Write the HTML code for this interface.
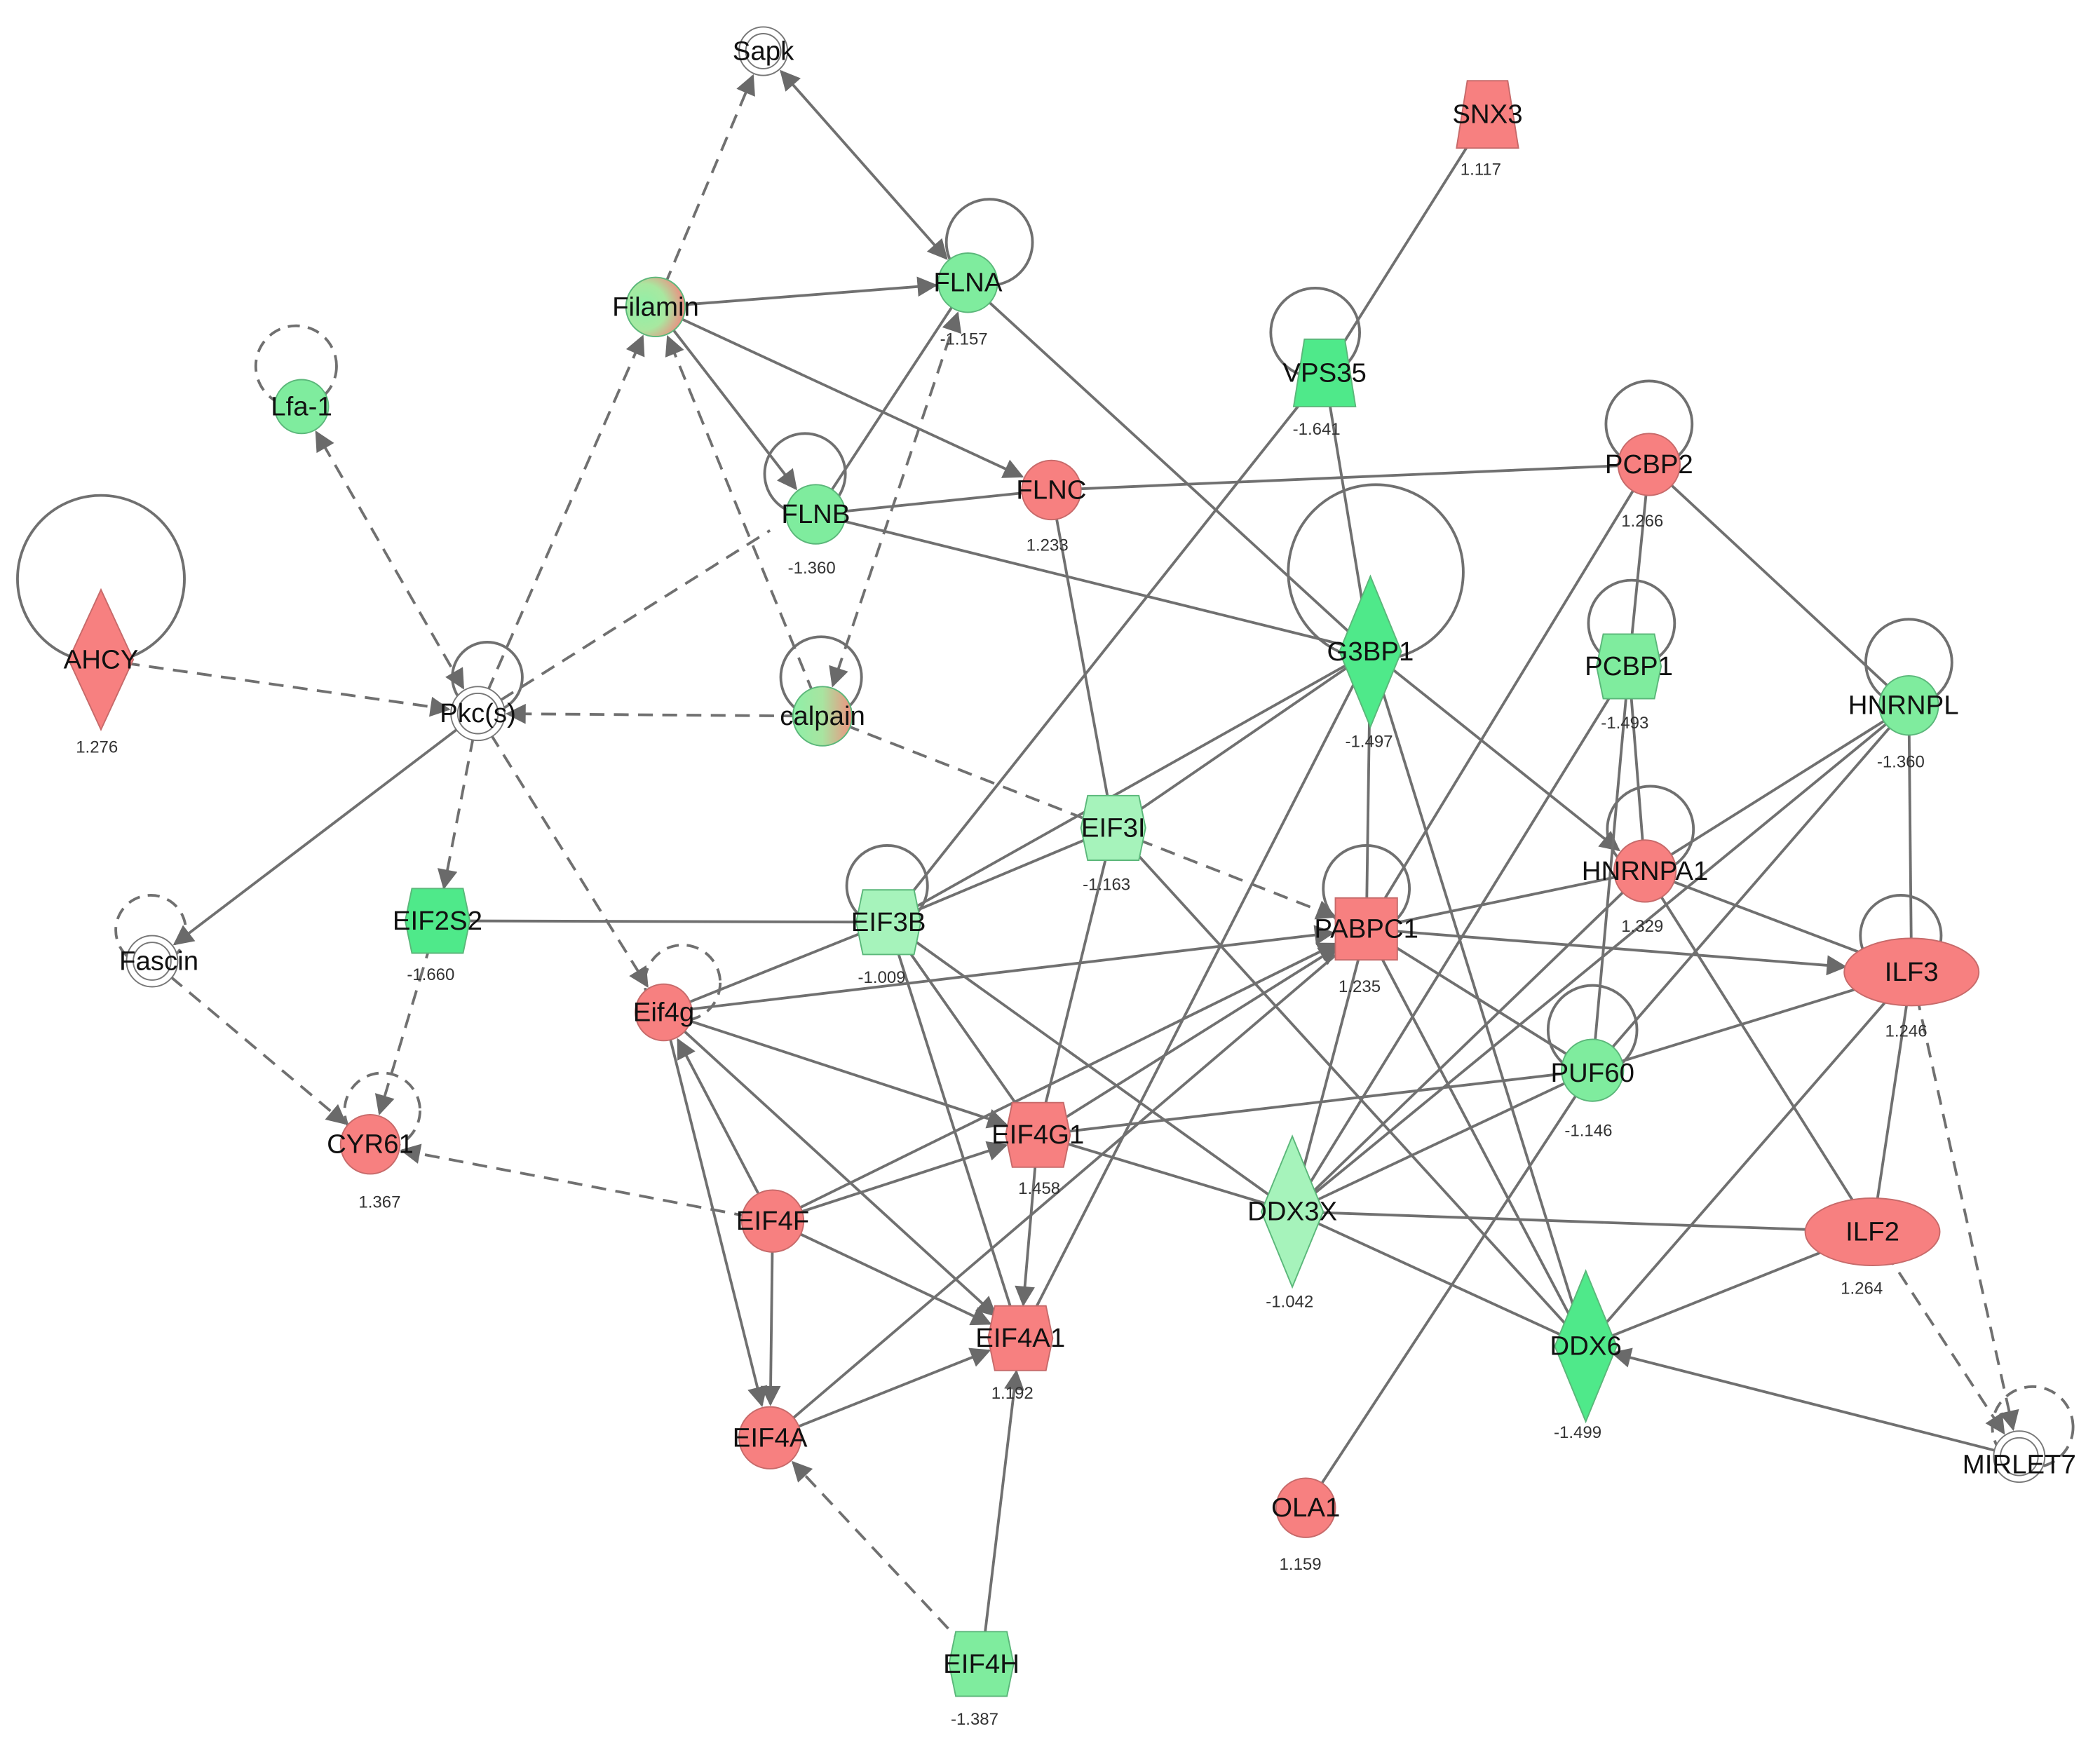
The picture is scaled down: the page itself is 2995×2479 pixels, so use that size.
<!DOCTYPE html>
<html><head><meta charset="utf-8"><style>
html,body{margin:0;padding:0;background:#fff;}
svg{display:block;}
text{font-family:"Liberation Sans",Arial,sans-serif;fill:#111;}
.l{font-size:20px;text-anchor:middle;dominant-baseline:central;}
.v{font-size:12.5px;text-anchor:middle;fill:#333;}
</style></head><body>
<svg id="s" width="2995" height="2479" viewBox="0 0 1560 1291" preserveAspectRatio="none" xmlns="http://www.w3.org/2000/svg">
<defs>
<marker id="a" viewBox="0 0 10 10" refX="9" refY="5" markerWidth="17" markerHeight="15" markerUnits="userSpaceOnUse" orient="auto-start-reverse"><path d="M0,0 L10,5 L0,10 z" fill="#6a6a6a"/></marker>
<radialGradient id="gr" cx="30%" cy="50%" r="70%"><stop offset="0" stop-color="#8ef0a8"/><stop offset="0.55" stop-color="#a8e8a0"/><stop offset="1" stop-color="#f08a80"/></radialGradient>
<linearGradient id="gr2" x1="0" y1="0" x2="1" y2="0"><stop offset="0" stop-color="#8ef0a8"/><stop offset="0.5" stop-color="#a8e4a0"/><stop offset="1" stop-color="#f0907f"/></linearGradient>
</defs>
<g id="edges" fill="none" stroke="#707070" stroke-width="2"></g>
<g id="nodes" stroke-width="1"></g>
<g id="labels">
<text class="l" x="567" y="38">Sapk</text>
<text class="l" x="1105" y="85">SNX3</text><text class="v" x="1100" y="130">1.117</text>
<text class="l" x="487" y="228">Filamin</text>
<text class="l" x="719" y="210">FLNA</text><text class="v" x="716" y="256">-1.157</text>
<text class="l" x="224" y="302">Lfa-1</text>
<text class="l" x="984" y="277">VPS35</text><text class="v" x="978" y="323">-1.641</text>
<text class="l" x="606" y="382">FLNB</text><text class="v" x="603" y="426">-1.360</text>
<text class="l" x="781" y="364">FLNC</text><text class="v" x="778" y="409">1.233</text>
<text class="l" x="1225" y="345">PCBP2</text><text class="v" x="1220" y="391">1.266</text>
<text class="l" x="75" y="490">AHCY</text><text class="v" x="72" y="559">1.276</text>
<text class="l" x="355" y="530">Pkc(s)</text>
<text class="l" x="611" y="532">calpain</text>
<text class="l" x="1018" y="484">G3BP1</text><text class="v" x="1017" y="555">-1.497</text>
<text class="l" x="1210" y="495">PCBP1</text><text class="v" x="1207" y="541">-1.493</text>
<text class="l" x="1414" y="524">HNRNPL</text><text class="v" x="1412" y="570">-1.360</text>
<text class="l" x="827" y="615">EIF3I</text><text class="v" x="822" y="661">-1.163</text>
<text class="l" x="1222" y="647">HNRNPA1</text><text class="v" x="1220" y="692">1.329</text>
<text class="l" x="118" y="714">Fascin</text>
<text class="l" x="325" y="684">EIF2S2</text><text class="v" x="320" y="728">-1.660</text>
<text class="l" x="660" y="685">EIF3B</text><text class="v" x="655" y="730">-1.009</text>
<text class="l" x="1015" y="690">PABPC1</text><text class="v" x="1010" y="737">1.235</text>
<text class="l" x="1420" y="722">ILF3</text><text class="v" x="1416" y="770">1.246</text>
<text class="l" x="493" y="752">Eif4g</text>
<text class="l" x="1183" y="797">PUF60</text><text class="v" x="1180" y="844">-1.146</text>
<text class="l" x="275" y="850">CYR61</text><text class="v" x="282" y="897">1.367</text>
<text class="l" x="771" y="843">EIF4G1</text><text class="v" x="772" y="887">1.458</text>
<text class="l" x="574" y="907">EIF4F</text>
<text class="l" x="960" y="900">DDX3X</text><text class="v" x="958" y="971">-1.042</text>
<text class="l" x="1391" y="915">ILF2</text><text class="v" x="1383" y="961">1.264</text>
<text class="l" x="758" y="994">EIF4A1</text><text class="v" x="752" y="1039">1.192</text>
<text class="l" x="1178" y="1000">DDX6</text><text class="v" x="1172" y="1068">-1.499</text>
<text class="l" x="572" y="1068">EIF4A</text>
<text class="l" x="1500" y="1088">MIRLET7</text>
<text class="l" x="970" y="1120">OLA1</text><text class="v" x="966" y="1166">1.159</text>
<text class="l" x="729" y="1236">EIF4H</text><text class="v" x="724" y="1281">-1.387</text>
</g>
</svg>
<script>
var R="#f78080",RS="#c76a6a",G="#7fec9e",GS="#5bb77a",LG="#a6f3bb",DG="#4fe98a";
var N={
Sapk:[567,38,'w',18],SNX3:[1105,85,'trap',24,R],Filamin:[487,228,'c',22,'url(#gr)'],FLNA:[719,210,'c',22,G],
Lfa:[224,302,'c',20,G],VPS35:[984,277,'trap',24,DG],FLNB:[606,382,'c',22,G],FLNC:[781,364,'c',22,R],
PCBP2:[1225,345,'c',23,R],AHCY:[75,490,'dia',24,R],Pkc:[355,530,'w',20],calpain:[611,532,'c',22,'url(#gr2)'],
G3BP1:[1018,484,'bdia',24,DG],PCBP1:[1210,495,'hex',24,G],HNRNPL:[1418,524,'c',22,G],EIF3I:[827,615,'hex',22,LG],
HNRNPA1:[1222,647,'c',23,R],Fascin:[113,714,'w',19],EIF2S2:[325,684,'hex',23,DG],EIF3B:[660,685,'hex',23,LG],
PABPC1:[1015,690,'sq',23,R],ILF3:[1420,722,'ell',26,R],Eif4g:[493,752,'c',21,R],PUF60:[1183,795,'c',23,G],
CYR61:[275,850,'c',22,R],EIF4G1:[771,843,'hex',23,R],EIF4F:[574,907,'c',23,R],DDX3X:[960,900,'bdia',22,LG],
ILF2:[1391,915,'ell',26,R],EIF4A1:[758,994,'hex',23,R],DDX6:[1178,1000,'bdia',24,DG],EIF4A:[572,1068,'c',23,R],
MIRLET7:[1500,1082,'w',19],OLA1:[970,1120,'c',22,R],EIF4H:[729,1236,'hex',23,G]};
var E=[
['Filamin','Sapk','d','e'],['Pkc','Filamin','d','e'],['Pkc','Lfa','d','b'],['AHCY','Pkc','d','e'],['calpain','Pkc','d','e'],
['calpain','Filamin','d','e'],['FLNA','calpain','d','b'],['Pkc','EIF2S2','d','e'],['Pkc','Eif4g','d','e'],['calpain','PABPC1','d','e'],
['Fascin','CYR61','d','e'],['EIF2S2','CYR61','d','e'],['EIF4F','CYR61','d','e'],['EIF4H','EIF4A','d','e'],
['ILF3','MIRLET7','d','e'],['ILF2','MIRLET7','d','e'],
['Sapk','FLNA','s','b'],['Filamin','FLNA','s','e'],['Filamin','FLNB','s','e'],['Filamin','FLNC','s','e'],['FLNB','FLNA','s',''],
['FLNB','FLNC','s',''],['FLNB','G3BP1','s',''],['FLNA','G3BP1','s',''],['FLNC','PCBP2','s',''],['FLNC','EIF3I','s',''],
['Pkc','Fascin','s','e'],['SNX3','VPS35','s',''],['VPS35','G3BP1','s',''],['VPS35','EIF3B','s',''],
['PCBP2','PCBP1','s',''],['PCBP2','HNRNPL','s',''],['PCBP2','PABPC1','s',''],
['G3BP1','EIF3I','s',''],['G3BP1','EIF3B','s',''],['G3BP1','PABPC1','s',''],['G3BP1','HNRNPA1','s','e'],['G3BP1','DDX6','s',''],['G3BP1','EIF4A1','s',''],
['PCBP1','HNRNPA1','s',''],['PCBP1','PUF60','s',''],['PCBP1','DDX3X','s',''],
['HNRNPL','HNRNPA1','s',''],['HNRNPL','ILF3','s',''],['HNRNPL','PUF60','s',''],['HNRNPL','DDX3X','s',''],
['EIF3I','EIF3B','s',''],['EIF3I','EIF4G1','s',''],['EIF3I','DDX6','s',''],
['EIF2S2','EIF3B','s',''],['EIF3B','Eif4g','s',''],['EIF3B','EIF4A1','s',''],['EIF3B','EIF4G1','s',''],['EIF3B','DDX3X','s',''],
['Eif4g','PABPC1','s','e'],['Eif4g','EIF4G1','s','e'],['Eif4g','EIF4A1','s','e'],['Eif4g','EIF4A','s','e'],['EIF4F','Eif4g','s','e'],
['EIF4F','EIF4G1','s','e'],['EIF4F','PABPC1','s','e'],['EIF4F','EIF4A1','s','e'],['EIF4F','EIF4A','s','e'],
['EIF4A','EIF4A1','s','e'],['EIF4A','PABPC1','s',''],['EIF4G1','EIF4A1','s','e'],['EIF4G1','PUF60','s',''],['EIF4G1','DDX3X','s',''],
['EIF4G1','PABPC1','s','e'],['EIF4H','EIF4A1','s','e'],
['PABPC1','HNRNPA1','s',''],['PABPC1','ILF3','s','e'],['PABPC1','PUF60','s',''],['PABPC1','DDX3X','s',''],['PABPC1','DDX6','s',''],
['HNRNPA1','ILF3','s',''],['HNRNPA1','ILF2','s',''],['HNRNPA1','DDX3X','s',''],
['ILF3','ILF2','s',''],['ILF3','PUF60','s',''],['ILF3','DDX6','s',''],
['PUF60','DDX3X','s',''],['PUF60','OLA1','s',''],['DDX3X','ILF2','s',''],['DDX3X','DDX6','s',''],['ILF2','DDX6','s',''],
['MIRLET7','DDX6','s','e']];
var L=[['AHCY',75,430,62,0],['Pkc',362,503,26,0],['FLNA',735,180,32,0],['FLNB',598,352,30,0],['calpain',610,503,30,0],
['VPS35',977,247,33,0],['PCBP2',1225,315,32,0],['G3BP1',1022,425,65,0],['PCBP1',1212,463,32,0],['HNRNPL',1418,492,32,0],
['EIF3B',659,658,30,0],['PABPC1',1015,660,32,0],['HNRNPA1',1226,616,32,0],['ILF3',1412,695,30,0],['PUF60',1183,765,33,0],
['Lfa',220,272,30,1],['Fascin',112,691,26,1],['CYR61',284,825,28,1],['Eif4g',507,730,28,1],['MIRLET7',1510,1060,30,1]];
var NS="http://www.w3.org/2000/svg",eg=document.getElementById('edges'),ng=document.getElementById('nodes');
function el(t,a,p){var e=document.createElementNS(NS,t);for(var k in a)e.setAttribute(k,a[k]);p.appendChild(e);return e;}
function rad(n,dx,dy){var t=n[2],r=n[3];if(t=='ell'){var a=Math.atan2(dy,dx);return 1/Math.sqrt(Math.pow(Math.cos(a)/50,2)+Math.pow(Math.sin(a)/25,2));}
 if(t=='dia'||t=='bdia'){var a=Math.atan2(dy,dx);var w=t=='bdia'?22:24,h=t=='bdia'?56:50;return 1/(Math.abs(Math.cos(a))/w+Math.abs(Math.sin(a))/h);}
 return r+2;}
L.forEach(function(l){var c=el('circle',{cx:l[1],cy:l[2],r:l[3]},eg);if(l[4])c.setAttribute('stroke-dasharray','9,6');});
E.forEach(function(e){var a=N[e[0]],b=N[e[1]];var dx=b[0]-a[0],dy=b[1]-a[1],d=Math.sqrt(dx*dx+dy*dy);
 var ra=e[3]=='b'?rad(a,dx,dy):0,rb=e[3]?rad(b,-dx,-dy):0;
 var p=el('line',{x1:a[0]+dx/d*ra,y1:a[1]+dy/d*ra,x2:b[0]-dx/d*rb,y2:b[1]-dy/d*rb},eg);
 if(e[2]=='d')p.setAttribute('stroke-dasharray','11,7');
 if(e[3])p.setAttribute('marker-end','url(#a)');if(e[3]=='b')p.setAttribute('marker-start','url(#a)');});
el('line',{x1:372,y1:520,x2:572,y2:394,'stroke-dasharray':'11,7'},eg);
for(var k in N){var n=N[k],x=n[0],y=n[1],r=n[3],f=n[4];var st=(f==R)?RS:GS;
 if(n[2]=='w'){el('circle',{cx:x,cy:y,r:r,fill:'#fff',stroke:'#777'},ng);el('circle',{cx:x,cy:y,r:r-5,fill:'#fff',stroke:'#777'},ng);}
 else if(n[2]=='c')el('circle',{cx:x,cy:y,r:r,fill:f,stroke:st},ng);
 else if(n[2]=='ell')el('ellipse',{cx:x,cy:y,rx:50,ry:25,fill:f,stroke:st},ng);
 else if(n[2]=='sq')el('rect',{x:x-23,y:y-23,width:46,height:46,fill:f,stroke:st},ng);
 else if(n[2]=='dia')el('polygon',{points:[x,y-52,x+24,y,x,y+52,x-24,y].join(' '),fill:f,stroke:st},ng);
 else if(n[2]=='bdia')el('polygon',{points:[x,y-56,x+23,y,x,y+56,x-23,y].join(' '),fill:f,stroke:st},ng);
 else if(n[2]=='trap')el('polygon',{points:[x-15,y-25,x+15,y-25,x+23,y+25,x-23,y+25].join(' '),fill:f,stroke:st},ng);
 else if(n[2]=='hex')el('polygon',{points:[x-19,y-24,x+19,y-24,x+24,y,x+19,y+24,x-19,y+24,x-24,y].join(' '),fill:f,stroke:st},ng);}
</script>
</body></html>
